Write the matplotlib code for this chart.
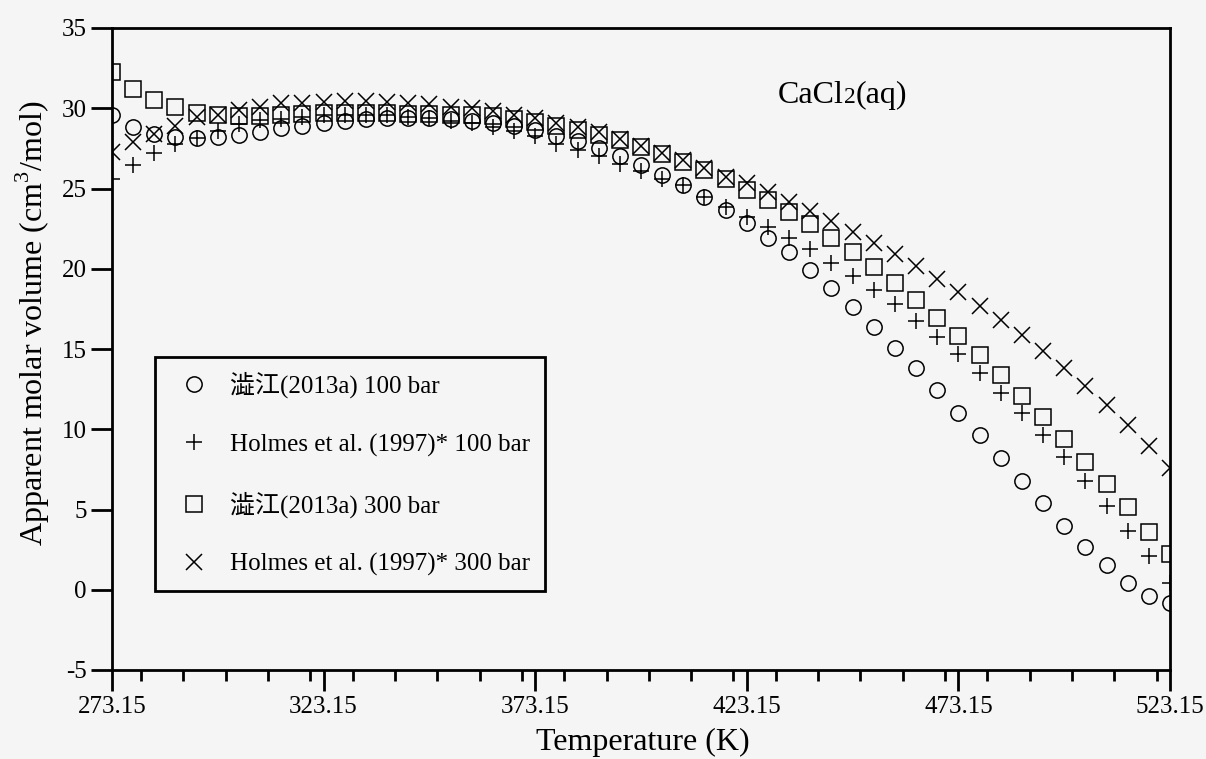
import matplotlib
matplotlib.use("Agg")
import matplotlib.pyplot as plt
from matplotlib.font_manager import FontProperties
from matplotlib.ticker import MultipleLocator

# ---------------- data ----------------
temperature = [273.15, 278.15, 283.15, 288.15, 293.15, 298.15, 303.15, 308.15, 313.15, 318.15,
               323.15, 328.15, 333.15, 338.15, 343.15, 348.15, 353.15, 358.15, 363.15, 368.15,
               373.15, 378.15, 383.15, 388.15, 393.15, 398.15, 403.15, 408.15, 413.15, 418.15,
               423.15, 428.15, 433.15, 438.15, 443.15, 448.15, 453.15, 458.15, 463.15, 468.15,
               473.15, 478.15, 483.15, 488.15, 493.15, 498.15, 503.15, 508.15, 513.15, 518.15,
               523.15]

shibue_100 = [29.6, 28.85, 28.4, 28.23, 28.13, 28.23, 28.33, 28.54, 28.75, 28.89,
              29.06, 29.2, 29.3, 29.4, 29.42, 29.38, 29.3, 29.2, 29.1, 28.9,
              28.65, 28.3, 27.95, 27.5, 27.0, 26.45, 25.84, 25.22, 24.49, 23.66,
              22.87, 21.94, 21.06, 19.9, 18.78, 17.64, 16.39, 15.08, 13.8, 12.45,
              10.99, 9.64, 8.19, 6.78, 5.39, 3.99, 2.68, 1.54, 0.44, -0.37,
              -0.85]

holmes_100 = [25.6, 26.45, 27.2, 27.8, 28.15, 28.6, 29.0, 29.25, 29.35, 29.45,
              29.55, 29.6, 29.6, 29.58, 29.48, 29.37, 29.2, 29.05, 28.85, 28.6,
              28.25, 27.75, 27.4, 27.0, 26.55, 26.1, 25.6, 25.2, 24.5, 23.87,
              23.24, 22.62, 21.9, 21.2, 20.38, 19.55, 18.68, 17.78, 16.74, 15.77,
              14.67, 13.52, 12.24, 10.99, 9.64, 8.25, 6.78, 5.22, 3.68, 2.1,
              0.44]

shibue_300 = [32.25, 31.2, 30.5, 30.05, 29.7, 29.55, 29.5, 29.5, 29.6, 29.65,
              29.68, 29.7, 29.7, 29.7, 29.65, 29.62, 29.6, 29.55, 29.5, 29.35,
              29.15, 28.9, 28.65, 28.35, 28.0, 27.56, 27.13, 26.67, 26.15, 25.57,
              24.9, 24.28, 23.56, 22.8, 21.94, 21.07, 20.13, 19.09, 18.05, 16.95,
              15.83, 14.63, 13.38, 12.07, 10.78, 9.37, 7.98, 6.57, 5.13, 3.62,
              2.2]

holmes_300 = [27.3, 27.9, 28.4, 28.9, 29.45, 29.6, 29.9, 30.05, 30.3, 30.35,
              30.4, 30.45, 30.45, 30.4, 30.35, 30.25, 30.1, 30.0, 29.85, 29.6,
              29.4, 29.1, 28.85, 28.5, 28.1, 27.65, 27.2, 26.75, 26.25, 25.74,
              25.32, 24.8, 24.18, 23.6, 22.97, 22.32, 21.63, 20.9, 20.17, 19.36,
              18.54, 17.7, 16.81, 15.87, 14.88, 13.8, 12.72, 11.51, 10.27, 8.98,
              7.6]

series_labels = ["澁江(2013a) 100 bar", "Holmes et al. (1997)* 100 bar",
                 "澁江(2013a) 300 bar", "Holmes et al. (1997)* 300 bar"]

x_ticks = [273.15, 323.15, 373.15, 423.15, 473.15, 523.15]
x_tick_labels = ["273.15", "323.15", "373.15", "423.15", "473.15", "523.15"]
y_ticks = [-5, 0, 5, 10, 15, 20, 25, 30, 35]
y_tick_labels = ["-5", "0", "5", "10", "15", "20", "25", "30", "35"]

# ---------------- style ----------------
bg = "#f5f5f5"
serif = ["Liberation Serif", "Noto Sans CJK JP", "DejaVu Sans"]
plt.rcParams["font.family"] = serif
plt.rcParams["mathtext.fontset"] = "custom"
plt.rcParams["mathtext.rm"] = "Liberation Serif"

fig = plt.figure(figsize=(12.06, 7.59), dpi=100, facecolor=bg)
ax = fig.add_axes([112 / 1206, 1 - 670 / 759, 1058 / 1206, 642 / 759], facecolor=bg)

mk = dict(linestyle="none", color="black", markerfacecolor="none",
          markeredgecolor="black", markeredgewidth=1.1)
ax.plot(temperature, shibue_100, marker="o", markersize=11, label=series_labels[0], **mk)
ax.plot(temperature, holmes_100, marker="+", markersize=12, label=series_labels[1], **mk)
ax.plot(temperature, shibue_300, marker="s", markersize=11, label=series_labels[2], **mk)
ax.plot(temperature, holmes_300, marker="x", markersize=11, label=series_labels[3], **mk)

ax.set_xlim(273.15, 523.15)
ax.set_ylim(-5, 35)
ax.set_xticks(x_ticks)
ax.set_xticklabels(x_tick_labels)
ax.set_yticks(y_ticks)
ax.set_yticklabels(y_tick_labels)
ax.xaxis.set_minor_locator(MultipleLocator(10))

ax.tick_params(axis="both", which="major", direction="out", length=15, width=2,
               labelsize=18, color="black")
ax.tick_params(axis="x", which="major", pad=4)
ax.tick_params(axis="y", which="major", pad=3)
ax.tick_params(axis="x", which="minor", direction="out", length=8, width=2)
ax.tick_params(axis="y", which="minor", length=0)

for s in ax.spines.values():
    s.set_linewidth(2)
    s.set_color("black")

ax.set_xlabel("Temperature (K)", fontsize=23)
ax.xaxis.set_label_coords(0.502, -0.090)
ax.set_ylabel("Apparent molar volume (cm$^3$/mol)", fontsize=23)
ax.yaxis.set_label_coords(-0.0567, 0.5397)

ax.text(0.6295, 0.883, "CaCl", transform=ax.transAxes, fontsize=23,
        va="baseline", ha="left")

leg = ax.legend(loc="upper left", bbox_to_anchor=(0.0406, 0.4875), borderaxespad=0,
                frameon=True, fancybox=False, edgecolor="black", facecolor=bg,
                framealpha=1, prop=FontProperties(family=serif, size=18),
                labelspacing=1.4, handlelength=1.9, handletextpad=0.5,
                borderpad=0.6)
leg.get_frame().set_linewidth(2)

# compose "CaCl2(aq)" with a smaller 2
fig.canvas.draw()
r = fig.canvas.get_renderer()
t1 = ax.texts[0]
bb = t1.get_window_extent(r)
inv = ax.transAxes.inverted()
x2 = inv.transform((bb.x1, 0))[0]
t2 = ax.text(x2, 0.883, "2", transform=ax.transAxes, fontsize=17,
             va="baseline", ha="left")
fig.canvas.draw()
bb2 = t2.get_window_extent(r)
x3 = inv.transform((bb2.x1, 0))[0]
ax.text(x3, 0.883, "(aq)", transform=ax.transAxes, fontsize=23,
        va="baseline", ha="left")

fig.savefig("out.png", dpi=100, facecolor=bg)
